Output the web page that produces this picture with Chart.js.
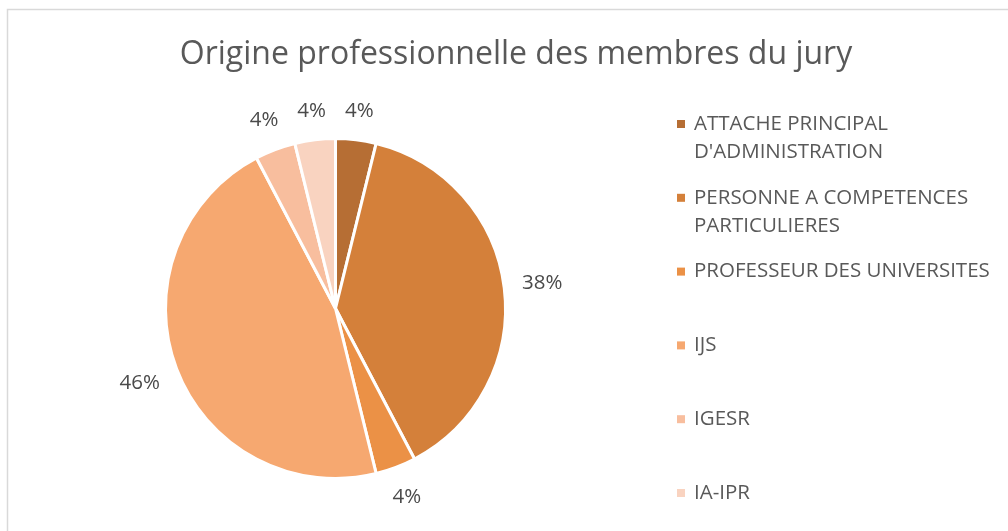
<!DOCTYPE html>
<html>
<head>
<meta charset="utf-8">
<script src="https://cdn.jsdelivr.net/npm/chart.js@4.4.0/dist/chart.umd.min.js"></script>
<style>
  body { margin: 0; background: #fff; }
  canvas { display: block; }
</style>
</head>
<body>
<canvas id="pieCanvas" width="1008" height="531"></canvas>
<script>
const chartTitle = "Origine professionnelle des membres du jury";
const categories = [
    ["ATTACHE PRINCIPAL", "D'ADMINISTRATION"],
    ["PERSONNE A COMPETENCES", "PARTICULIERES"],
    ["PROFESSEUR DES UNIVERSITES"],
    ["IJS"],
    ["IGESR"],
    ["IA-IPR"]
];
const members = [1, 10, 1, 12, 1, 1];
const sliceColors = ["#B66E34", "#D4803A", "#EB9146", "#F6A870", "#F8BE9E", "#F9D3C0"];

const textColor = "#595959";
const fontFamily = "'Open Sans', sans-serif";

//Frame, title, labels and legend drawn by hand
const decorPlugin = {
    id: "decor",
    beforeDraw(chart) {
        const ctx = chart.ctx;
        ctx.save();
        ctx.strokeStyle = "#d9d9d9";
        ctx.lineWidth = 1.5;
        ctx.strokeRect(7.5, 9.5, 1100, 600);
        ctx.restore();
    },
    afterDraw(chart) {
        const ctx = chart.ctx;
        const data = chart.data.datasets[0].data;
        const total = data.reduce((a, b) => a + b, 0);
        ctx.save();
        ctx.fillStyle = textColor;

        // title
        ctx.font = "32px " + fontFamily;
        ctx.textAlign = "center";
        ctx.textBaseline = "middle";
        ctx.fillText(chartTitle, 516, 55);

        // percentage labels outside each slice
        ctx.font = "20.5px " + fontFamily;
        ctx.fillStyle = "#4a4a4a";
        const meta = chart.getDatasetMeta(0);
        meta.data.forEach((arc, i) => {
            const text = Math.round(data[i] / total * 100) + "%";
            const w = ctx.measureText(text).width;
            const h = 20;
            const mid = (arc.startAngle + arc.endAngle) / 2;
            const c = Math.cos(mid), s = Math.sin(mid);
            const dist = arc.outerRadius + 17 + Math.abs(c) * w / 2 + Math.abs(s) * h / 2;
            ctx.fillText(text, arc.x + c * dist, arc.y + s * dist);
        });

        // legend
        ctx.textAlign = "left";
        ctx.font = "20.5px " + fontFamily;
        chart.data.labels.forEach((label, i) => {
            const y = 124 + i * 73.8;
            ctx.fillStyle = sliceColors[i];
            ctx.fillRect(677, y - 4, 8, 8);
            ctx.fillStyle = textColor;
            label.forEach((line, j) => {
                ctx.fillText(line, 694, y + j * 28);
            });
        });
        ctx.restore();
    }
};

new Chart(document.getElementById("pieCanvas").getContext("2d"), {
    type: "pie",
    data: {
        labels: categories,
        datasets: [{
            data: members,
            backgroundColor: sliceColors,
            borderColor: "#ffffff",
            borderWidth: 3
        }]
    },
    options: {
        responsive: false,
        animation: false,
        layout: { padding: { left: 164, right: 501, top: 137, bottom: 51 } },
        plugins: {
            legend: { display: false },
            title: { display: false },
            tooltip: { enabled: false }
        }
    },
    plugins: [decorPlugin]
});
</script>
</body>
</html>
